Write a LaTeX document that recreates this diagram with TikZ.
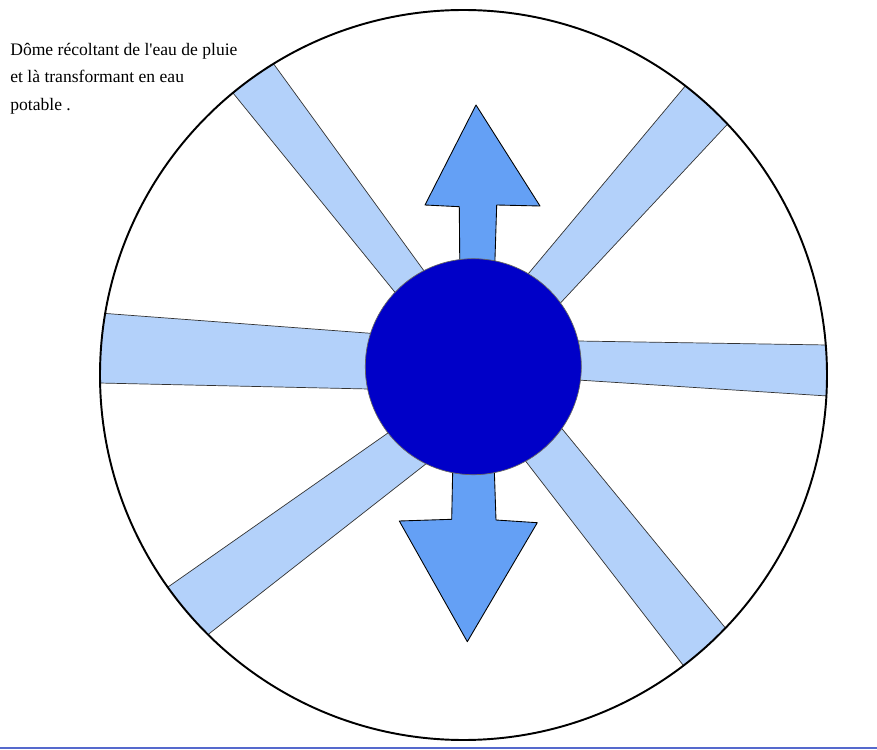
\documentclass[tikz,border=0pt]{standalone}
\usepackage{fontspec}
\setmainfont{Liberation Serif}
\usetikzlibrary{positioning}
\definecolor{DomeSpoke}{RGB}{179,209,250}
\definecolor{DomeArrow}{RGB}{100,160,245}
\definecolor{DomeCore}{RGB}{0,0,200}
\definecolor{DomeRule}{RGB}{85,105,205}

\begin{document}
\begin{tikzpicture}[x=0.02cm,y=-0.02cm,
  spoke/.style={fill=DomeSpoke,draw=black!80,line width=0.4pt,line join=round},
  flow/.style={fill=DomeArrow,draw=black,line width=0.5pt,line join=round},
  note/.style={font=\fontsize{10}{15.6}\selectfont,align=left,
               anchor=north west,inner sep=0pt},
]
\useasboundingbox (0,0) rectangle (877,750);
\coordinate (dome) at (463.5,375);
\coordinate (core) at (473.3,366.7);
% spokes, cut off at the rim
\begin{scope}
  \clip (dome) ellipse [x radius=363.5,y radius=365];
  \filldraw[spoke] (90,312.3) -- (400,335.5) -- (400,389.7) -- (90,382.8) -- cycle;
  \filldraw[spoke] (840,345.2) -- (540,340.4) -- (540,377.6) -- (840,396.8) -- cycle;
  \filldraw[spoke] (220.4,77.5) -- (261.2,46.8) -- (439.6,292.3) -- (411,312) -- cycle;
  \filldraw[spoke] (696.1,73) -- (740.4,110.4) -- (542.8,321.9) -- (510.8,294.7) -- cycle;
  \filldraw[spoke] (151.6,598.5) -- (409.6,417.8) -- (445.6,448.5) -- (194.3,645.3) -- cycle;
  \filldraw[spoke] (695.2,680.8) -- (508.7,439.2) -- (544,406.8) -- (735.7,640.5) -- cycle;
\end{scope}
\draw[line width=1.1pt] (dome) ellipse [x radius=363.5,y radius=365];
% up and down arrows
\filldraw[flow] (476,105) -- (540,206) -- (496.7,205) -- (494,290)
  -- (460,290) -- (459.3,206.7) -- (425,205) -- cycle;
\filldraw[flow] (453.3,440) -- (451.7,519.3) -- (399.3,521) -- (467.3,641.7)
  -- (537.3,522.7) -- (496,520) -- (493.3,440) -- cycle;
% core
\filldraw[fill=DomeCore,draw=black!60,line width=0.4pt] (core) circle [radius=108];
\node[note] (caption) at (10,43)
  {Dôme récoltant de l\textquotesingle eau de pluie\\et là transformant en eau\\potable .};
\coordinate (ruleL) at (0,748);
\coordinate (ruleR) at (877,748);
\draw[DomeRule,line width=1.2pt] (ruleL) -- (ruleR);
\end{tikzpicture}
\end{document}
